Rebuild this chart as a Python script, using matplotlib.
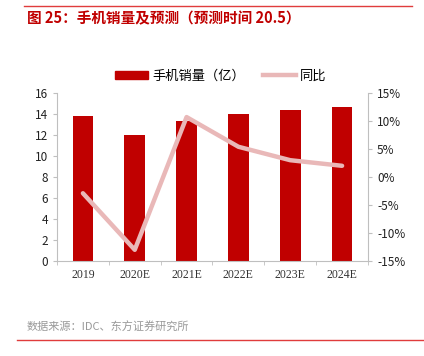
import matplotlib
matplotlib.use('Agg')
import matplotlib.pyplot as plt
from matplotlib.lines import Line2D

plt.rcParams['font.family'] = ['Noto Sans CJK SC', 'DejaVu Sans']

# --- Data ---
years = ["2019", "2020E", "2021E", "2022E", "2023E", "2024E"]
sales = [13.8, 12.0, 13.3, 14.0, 14.4, 14.7]
yoy = [-2.9, -13.0, 10.7, 5.4, 3.0, 2.0]

BAR_COLOR = '#C00000'
LINE_COLOR = '#E9B8B8'
AXIS_COLOR = '#BFBFBF'

fig = plt.figure(figsize=(4.24, 3.56), dpi=100)
ax = fig.add_axes([57 / 424, 1 - 261 / 356, (368 - 57) / 424, (261 - 93) / 356])
ax2 = ax.twinx()

x = list(range(len(years)))
ax.bar(x, sales, width=0.4, color=BAR_COLOR, zorder=2)
ax2.plot(x, yoy, color=LINE_COLOR, linewidth=3.2, solid_capstyle='round', zorder=3)

ax.set_xlim(-0.5, len(years) - 0.5)
ax.set_ylim(0, 16)
ax.set_yticks(range(0, 17, 2))
ax2.set_ylim(-15, 15)
ax2.set_yticks(range(-15, 16, 5))
ax2.set_yticklabels([f"{v}%" for v in range(-15, 16, 5)])

ax.set_xticks(x)
ax.set_xticklabels(years, family=['Liberation Serif', 'DejaVu Serif'], fontsize=8.5, color='#333333')
ax.set_xticks([i - 0.5 for i in range(len(years) + 1)], minor=True)
ax.tick_params(axis='x', which='major', length=0, pad=6)
ax.tick_params(axis='x', which='minor', length=3, color=AXIS_COLOR, direction='out')

for a in (ax, ax2):
    for s in a.spines.values():
        s.set_visible(False)
    a.tick_params(axis='y', labelsize=8.5, labelcolor='#222222', color=AXIS_COLOR, length=3)
ax.spines['left'].set_visible(True)
ax.spines['left'].set_color(AXIS_COLOR)
ax.spines['bottom'].set_visible(True)
ax.spines['bottom'].set_color(AXIS_COLOR)
ax2.spines['right'].set_visible(True)
ax2.spines['right'].set_color(AXIS_COLOR)

# legend
handles = [plt.Rectangle((0, 0), 1, 1, color=BAR_COLOR),
           Line2D([0], [0], color=LINE_COLOR, linewidth=3.2)]
fig.legend(handles, ["手机销量（亿）", "同比"], loc='center', bbox_to_anchor=(221 / 424, 1 - 76 / 356),
           ncol=2, frameon=False, fontsize=9.5, handlelength=2.5, columnspacing=1.4,
           handletextpad=0.3, handleheight=0.6)

# title and frame lines
fig.add_artist(Line2D([24 / 424, 412 / 424], [1 - 6 / 356] * 2, color='#E03C3C', linewidth=1))
fig.text(27 / 424, 1 - 18 / 356, "图 25：手机销量及预测（预测时间 20.5）", fontsize=10.5,
         color='#C00000', fontweight='bold', va='center')
fig.text(27 / 424, 1 - 327 / 356, "数据来源：IDC、东方证券研究所", fontsize=8,
         color='#999999', va='center')
fig.add_artist(Line2D([17 / 424, 1.0], [1 - 340 / 356] * 2, color='#E03C3C', linewidth=1))

fig.savefig("out.png", dpi=100)
